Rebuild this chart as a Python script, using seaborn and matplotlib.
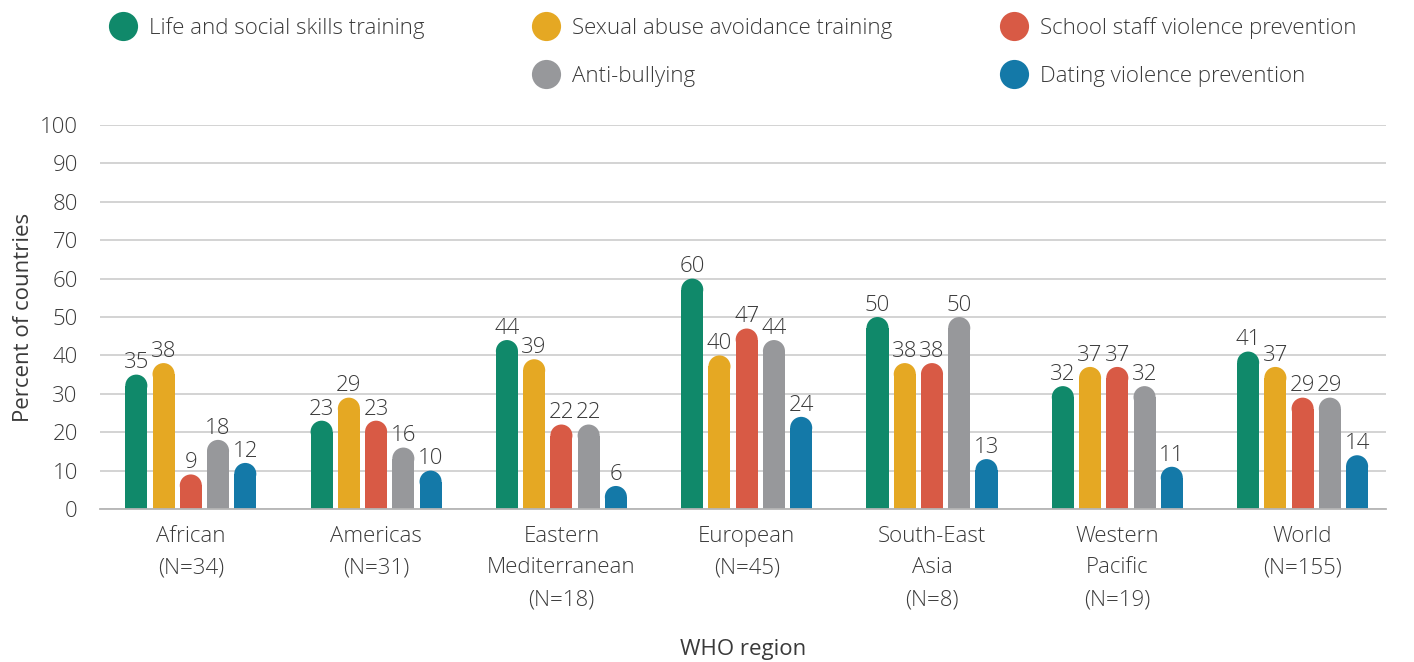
import pandas as pd
import matplotlib.pyplot as plt
import seaborn as sns
from matplotlib.lines import Line2D
from matplotlib.patches import Ellipse

# --- data ---
regions = ["African\n(N=34)", "Americas\n(N=31)", "Eastern\nMediterranean\n(N=18)",
           "European\n(N=45)", "South-East\nAsia\n(N=8)", "Western\nPacific\n(N=19)",
           "World\n(N=155)"]
series = ["Life and social skills training", "Sexual abuse avoidance training",
          "School staff violence prevention", "Anti-bullying", "Dating violence prevention"]
life_skills = [35, 23, 44, 60, 50, 32, 41]
sexual_abuse = [38, 29, 39, 40, 38, 37, 37]
staff_violence = [9, 23, 22, 47, 38, 37, 29]
anti_bullying = [18, 16, 22, 44, 50, 32, 29]
dating_violence = [12, 10, 6, 24, 13, 11, 14]
yticks = list(range(0, 101, 10))

colors = ["#10896a", "#e5a823", "#d85a45", "#97989b", "#1479a8"]
text_col = "#3a3a3a"
FS = 16

values = [life_skills, sexual_abuse, staff_violence, anti_bullying, dating_violence]
df = pd.DataFrame([
    {"region": r, "series": s, "value": v}
    for s, vals in zip(series, values)
    for r, v in zip(regions, vals)
])

sns.set_theme(style="white")
plt.rcParams['font.family'] = ['Open Sans', 'DejaVu Sans']
plt.rcParams['font.weight'] = 'light'

fig = plt.figure(figsize=(14.14, 6.62), dpi=100)
ax = fig.add_axes([100 / 1414, 1 - 509 / 662, 1286 / 1414, 384 / 662])

sns.barplot(data=df, x="region", y="value", hue="series", palette=colors,
            width=0.735, gap=0.19, ax=ax, legend=False, saturation=1, linewidth=0)

ax.set_xlim(-0.49, 6.45)
ax.set_ylim(0, 100)
ax.set_yticks(yticks)
ax.yaxis.grid(True, color="#c8c8c8", linewidth=1.1)
ax.set_axisbelow(True)
for sp in ["left", "right", "top"]:
    ax.spines[sp].set_visible(False)
ax.spines["bottom"].set_color("#b5b5b5")
ax.spines["bottom"].set_linewidth(1.3)
ax.tick_params(axis="both", length=0, labelsize=FS, colors=text_col)
ax.tick_params(axis="x", pad=12)
ax.tick_params(axis="y", pad=16)
for lab in ax.get_xticklabels():
    lab.set_linespacing(1.67)
ax.set_xlabel("WHO region", fontsize=FS, color=text_col, labelpad=21)
ax.set_ylabel("Percent of countries", fontsize=FS, color=text_col, labelpad=4)

# rounded tops: shorten each bar by the cap radius and add a half-ellipse cap
fig.canvas.draw()
p0 = ax.transData.transform((0, 0))
p1 = ax.transData.transform((1, 1))
px_x, px_y = p1[0] - p0[0], p1[1] - p0[1]
for cont, col in zip(ax.containers, colors):
    for bar in cont:
        x, w, h = bar.get_x(), bar.get_width(), bar.get_height()
        r = (w * px_x / 2) / px_y
        bar.set_height(h - r)
        ax.add_patch(Ellipse((x + w / 2, h - r), w, 2 * r, color=col, linewidth=0))
        ax.text(x + w / 2, h + 0.3, f"{h:.0f}", ha="center", va="bottom",
                fontsize=FS, color=text_col)

# legend in 3 columns with an empty slot under the first entry
handles = [Line2D([], [], marker="o", linestyle="", markersize=21,
                  markerfacecolor=c, markeredgewidth=0) for c in colors]
blank = Line2D([], [], linestyle="", marker="")
order_h = [handles[0], blank, handles[1], handles[3], handles[2], handles[4]]
order_l = [series[0], "", series[1], series[3], series[2], series[4]]
leg = fig.legend(order_h, order_l, ncol=3, loc="upper left",
                 bbox_to_anchor=(0.0635, 1.005), frameon=False, fontsize=FS,
                 handletextpad=0.55, columnspacing=4.9, labelspacing=1.22,
                 handlelength=1.2)
for t in leg.get_texts():
    t.set_color(text_col)

fig.savefig("out.png", dpi=100)
